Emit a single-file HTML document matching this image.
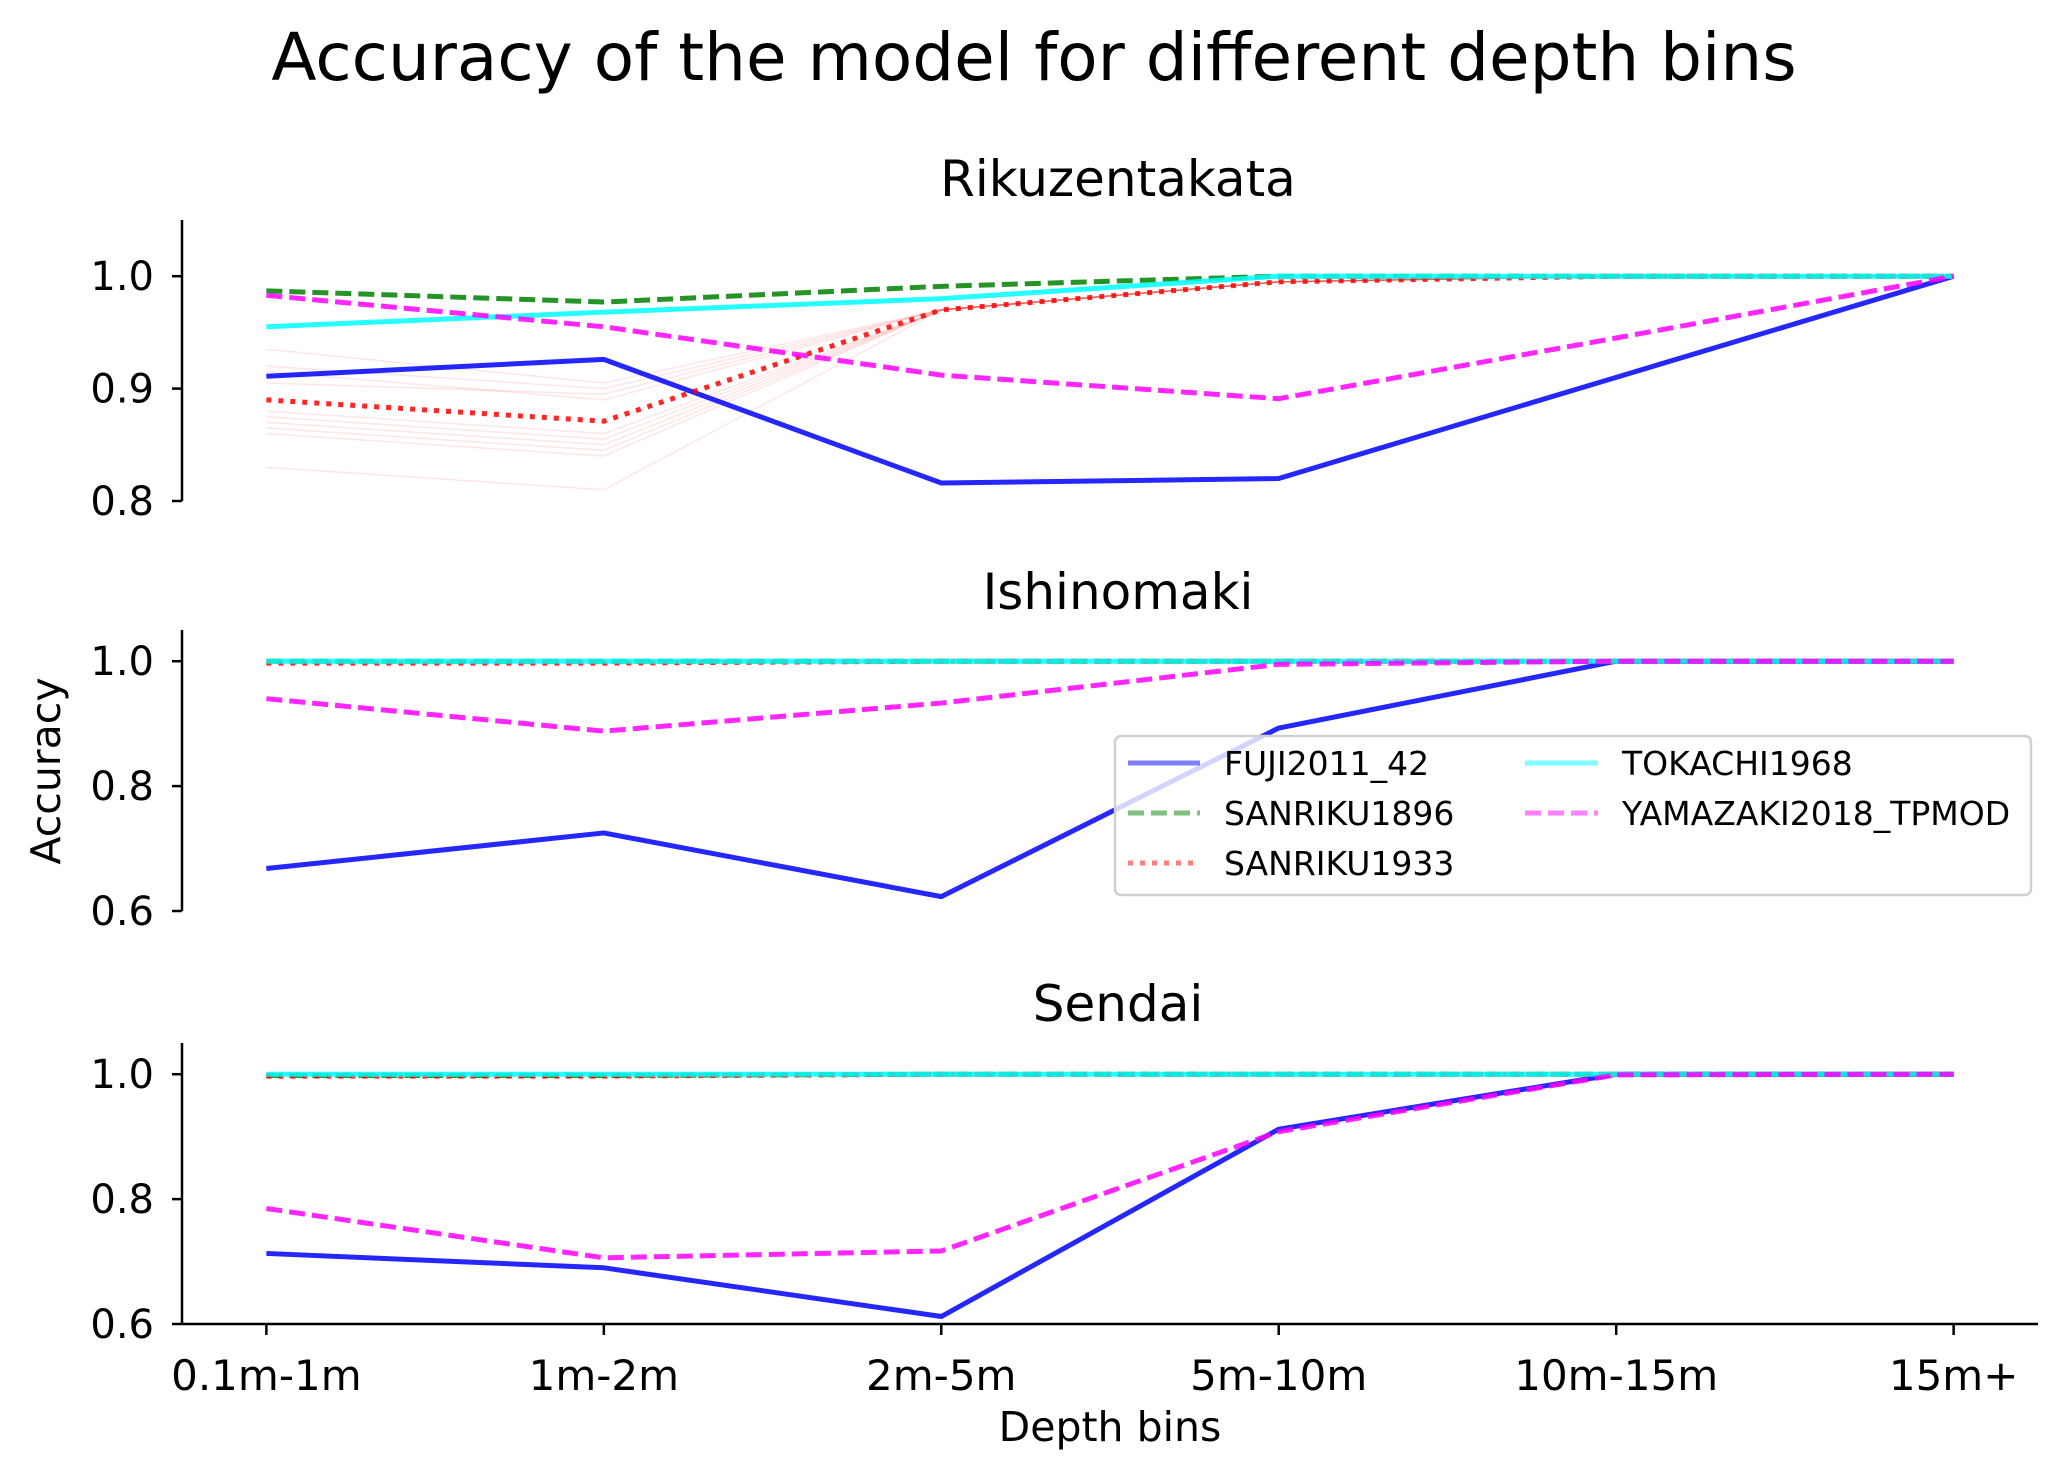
<!DOCTYPE html>
<html><head><meta charset="utf-8">
<style>
html,body{margin:0;padding:0;background:#fff;}
svg{display:block;font-family:"DejaVu Sans","Liberation Sans",sans-serif;}
</style></head>
<body>
<svg id="chart" width="2067" height="1481" viewBox="0 0 2067 1481" xmlns="http://www.w3.org/2000/svg">
<text x="1034" y="80" font-size="66" text-anchor="middle">Accuracy of the model for different depth bins</text>
<text x="0" y="0" font-size="41" text-anchor="middle" transform="translate(60,771) rotate(-90)">Accuracy</text>
<text x="1110" y="1441" font-size="41" text-anchor="middle">Depth bins</text>
<g id="panels"></g>
<g>
<rect x="1115" y="736" width="916" height="159" rx="6" fill="#fff" fill-opacity="0.8" stroke="#d0d0d0" stroke-width="2.5"/>
<g><line x1="1128" y1="763" x2="1200" y2="763" stroke="#0000ff" stroke-opacity="0.5" stroke-width="5"/><text x="1224" y="775" font-size="33">FUJI2011_42</text></g>
<g><line x1="1128" y1="813" x2="1200" y2="813" stroke="#008000" stroke-opacity="0.5" stroke-width="5" stroke-dasharray="16,7"/><text x="1224" y="825" font-size="33">SANRIKU1896</text></g>
<g><line x1="1128" y1="863" x2="1200" y2="863" stroke="#ff0000" stroke-opacity="0.5" stroke-width="5" stroke-dasharray="5,7"/><text x="1224" y="875" font-size="33">SANRIKU1933</text></g>
<g><line x1="1525" y1="763" x2="1598" y2="763" stroke="#00ffff" stroke-opacity="0.5" stroke-width="5"/><text x="1622" y="775" font-size="33">TOKACHI1968</text></g>
<g><line x1="1525" y1="813" x2="1598" y2="813" stroke="#ff00ff" stroke-opacity="0.5" stroke-width="5" stroke-dasharray="16,7"/><text x="1622" y="825" font-size="33">YAMAZAKI2018_TPMOD</text></g>
</g>
</svg>
<script>
const categories = ["0.1m-1m","1m-2m","2m-5m","5m-10m","10m-15m","15m+"];
const seriesNames = ["FUJI2011_42","SANRIKU1896","SANRIKU1933","TOKACHI1968","YAMAZAKI2018_TPMOD"];
const rikuFuji = [0.911,0.926,0.816,0.820,0.910,1.0];
const rikuS1896 = [0.987,0.977,0.991,1.0,1.0,1.0];
const rikuS1933 = [0.890,0.871,0.970,0.995,1.0,1.0];
const rikuTokachi = [0.955,0.968,0.980,1.0,1.0,1.0];
const rikuYamazaki = [0.983,0.955,0.912,0.891,0.945,1.0];
const rikuS1933Ensemble1 = [0.935,0.915,0.860,0.880,0.870,0.905,0.830,0.920,0.875,0.865];
const rikuS1933Ensemble2 = [0.905,0.890,0.840,0.860,0.850,0.895,0.810,0.900,0.855,0.845];
const ishiFuji = [0.668,0.725,0.623,0.893,1.0,1.0];
const ishiS1896 = [1.0,1.0,1.0,1.0,1.0,1.0];
const ishiS1933 = [0.997,0.997,1.0,1.0,1.0,1.0];
const ishiTokachi = [1.0,1.0,1.0,1.0,1.0,1.0];
const ishiYamazaki = [0.940,0.888,0.933,0.995,1.0,1.0];
const sendFuji = [0.713,0.690,0.612,0.912,1.0,1.0];
const sendS1896 = [0.998,0.998,1.0,1.0,1.0,1.0];
const sendS1933 = [0.997,0.997,1.0,1.0,1.0,1.0];
const sendTokachi = [1.0,1.0,1.0,1.0,1.0,1.0];
const sendYamazaki = [0.785,0.706,0.717,0.908,0.999,1.0];
const rikuTicks = [0.8,0.9,1.0];
const lowerTicks = [0.6,0.8,1.0];

const NS = "http://www.w3.org/2000/svg";
const root = document.getElementById('panels');
function xScale(i){ return 182 + (i + 0.25) * (2038 - 182) / 5.5; }
function mk(tag, attrs, parent){ const e = document.createElementNS(NS, tag); for (const k in attrs) e.setAttribute(k, attrs[k]); parent.appendChild(e); return e; }

const styles = [
  {c:"#0000ff", d:null, n:"fuji"},
  {c:"#008000", d:"16,7", n:"sanriku1896"},
  {c:"#ff0000", d:"5,7", n:"sanriku1933"},
  {c:"#00ffff", d:null, n:"tokachi1968"},
  {c:"#ff00ff", d:"16,7", n:"yamazaki"}
];

const panels = [
  {name:"rikuzentakata", title:"Rikuzentakata", top:220, bottom:501, ymin:0.8, ymax:1.05, ticks:rikuTicks, data:[rikuFuji,rikuS1896,rikuS1933,rikuTokachi,rikuYamazaki], ens:true, base:196},
  {name:"ishinomaki", title:"Ishinomaki", top:630, bottom:911, ymin:0.6, ymax:1.05, ticks:lowerTicks, data:[ishiFuji,ishiS1896,ishiS1933,ishiTokachi,ishiYamazaki], base:609},
  {name:"sendai", title:"Sendai", top:1043, bottom:1324, ymin:0.6, ymax:1.05, ticks:lowerTicks, data:[sendFuji,sendS1896,sendS1933,sendTokachi,sendYamazaki], base:1021, xaxis:true}
];

panels.forEach(p => {
  const g = mk('g', {}, root);
  
  
  const y = v => p.bottom - (v - p.ymin) / (p.ymax - p.ymin) * (p.bottom - p.top);
  const t = mk('text', {x:1118, y:p.base, 'font-size':50, 'text-anchor':'middle'}, g);
  t.textContent = p.title;
  
  
  const sp = mk('line', {x1:182, y1:p.top, x2:182, y2:p.bottom, stroke:'#000', 'stroke-width':2.5}, g);
  
  
  p.ticks.forEach(tv => {
    const ty = y(tv);
    const tk = mk('line', {x1:172, y1:ty, x2:182, y2:ty, stroke:'#000', 'stroke-width':2.5}, g);
    
    
    const tl = mk('text', {x:154, y:ty + 14, 'font-size':40, 'text-anchor':'end'}, g);
    tl.textContent = tv.toFixed(1);
    
    
  });
  if (p.ens) {
    rikuS1933Ensemble1.forEach((v, j) => {
      const v2 = rikuS1933Ensemble2[j];
      const pts = [[0, v], [1, v2], [2, rikuS1933[2]], [3, rikuS1933[3]], [4, 1], [5, 1]];
      const pl = mk('polyline', {points: pts.map(q => xScale(q[0]) + ',' + y(q[1])).join(' '), fill:'none', stroke:'#ff0000', 'stroke-opacity':0.1, 'stroke-width':1.5}, g);
      
      
    });
  }
  p.data.forEach((arr, si) => {
    const s = styles[si];
    const attrs = {points: arr.map((v, i) => xScale(i) + ',' + y(v)).join(' '), fill:'none', stroke:s.c, 'stroke-opacity':0.85, 'stroke-width':5, 'stroke-linejoin':'round'};
    if (s.d) attrs['stroke-dasharray'] = s.d;
    const pl = mk('polyline', attrs, g);
    
    
  });
  if (p.xaxis) {
    const ax = mk('line', {x1:182, y1:p.bottom, x2:2038, y2:p.bottom, stroke:'#000', 'stroke-width':2.5}, g);
    
    
    categories.forEach((c, i) => {
      const tk = mk('line', {x1:xScale(i), y1:p.bottom, x2:xScale(i), y2:p.bottom + 11, stroke:'#000', 'stroke-width':2.5}, g);
      
      
      const tl = mk('text', {x:xScale(i), y:1390, 'font-size':42, 'text-anchor':'middle'}, g);
      tl.textContent = c;
      
      
    });
  }
});
</script>
</body></html>
